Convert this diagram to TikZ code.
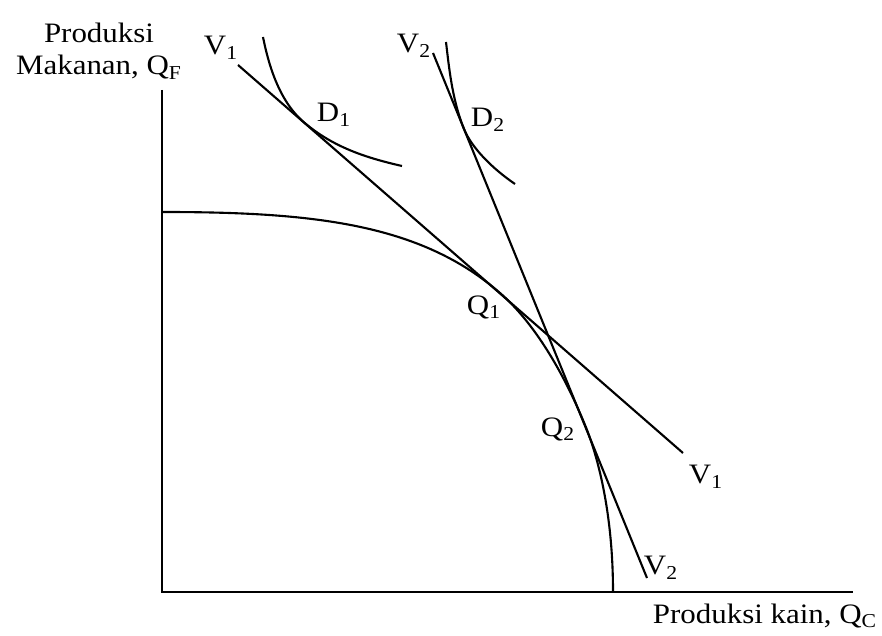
\documentclass[tikz,border=0pt]{standalone}
\usepackage{fontspec}
\setmainfont{Liberation Serif}[FakeStretch = 1.1]

\begin{document}
\begin{tikzpicture}[line width = 1.2pt, font = \fontsize{16}{18.6}\selectfont]
        \useasboundingbox (0,0) rectangle (17.64,12.7);

        % axes
        \coordinate (O) at (3.24,0.86);
        \coordinate (ytop) at (3.24,10.9);
        \coordinate (xend) at (17.06,0.86);
        \draw (ytop) -- (O) -- (xend);

        \node[align = center] (ylab) at (1.98,11.68) {Produksi\\Makanan, Q\textsubscript{F}};
        \node[anchor = base] (xlab) at (15.30,0.24) {Produksi kain, Q\textsubscript{C}};

        % production possibility frontier
        \coordinate (P0) at (3.24,8.46);
        \coordinate (Q1) at (10.00,6.84);
        \coordinate (Q2) at (11.70,4.20);
        \coordinate (P3) at (12.26,0.86);
        \draw (P0) .. controls (6.22,8.46) and (8.40,8.24) .. (Q1)
              .. controls (10.60,6.32) and (11.20,5.42) .. (Q2)
              .. controls (11.94,3.62) and (12.26,2.48) .. (P3);

        % isovalue lines
        \coordinate (V1a) at (4.76,11.40);
        \coordinate (V1b) at (13.66,3.64);
        \coordinate (V2a) at (8.66,11.64);
        \coordinate (V2b) at (12.94,1.14);
        \draw (V1a) -- (V1b);
        \draw (V2a) -- (V2b);

        % indifference curves
        \coordinate (D1) at (6.06,10.27);
        \draw (5.26,11.96) .. controls (5.36,11.46) and (5.56,10.71) .. (D1)
              .. controls (6.66,9.75) and (7.34,9.54) .. (8.04,9.38);
        \coordinate (D2) at (9.28,10.12);
        \draw (8.92,11.86) .. controls (8.98,11.36) and (9.04,10.71) .. (D2)
              .. controls (9.44,9.73) and (9.86,9.32) .. (10.30,9.02);

        % labels
        \node (v1top) at (4.42,11.74) {V\textsubscript{1}};
        \node (v2top) at (8.28,11.78) {V\textsubscript{2}};
        \node (v1bot) at (14.12,3.16) {V\textsubscript{1}};
        \node (v2bot) at (13.22,1.34) {V\textsubscript{2}};
        \node (d1lab) at (6.68,10.40) {D\textsubscript{1}};
        \node (d2lab) at (9.76,10.30) {D\textsubscript{2}};
        \node (q1lab) at (9.68,6.56) {Q\textsubscript{1}};
        \node (q2lab) at (11.16,4.12) {Q\textsubscript{2}};
\end{tikzpicture}
\end{document}
